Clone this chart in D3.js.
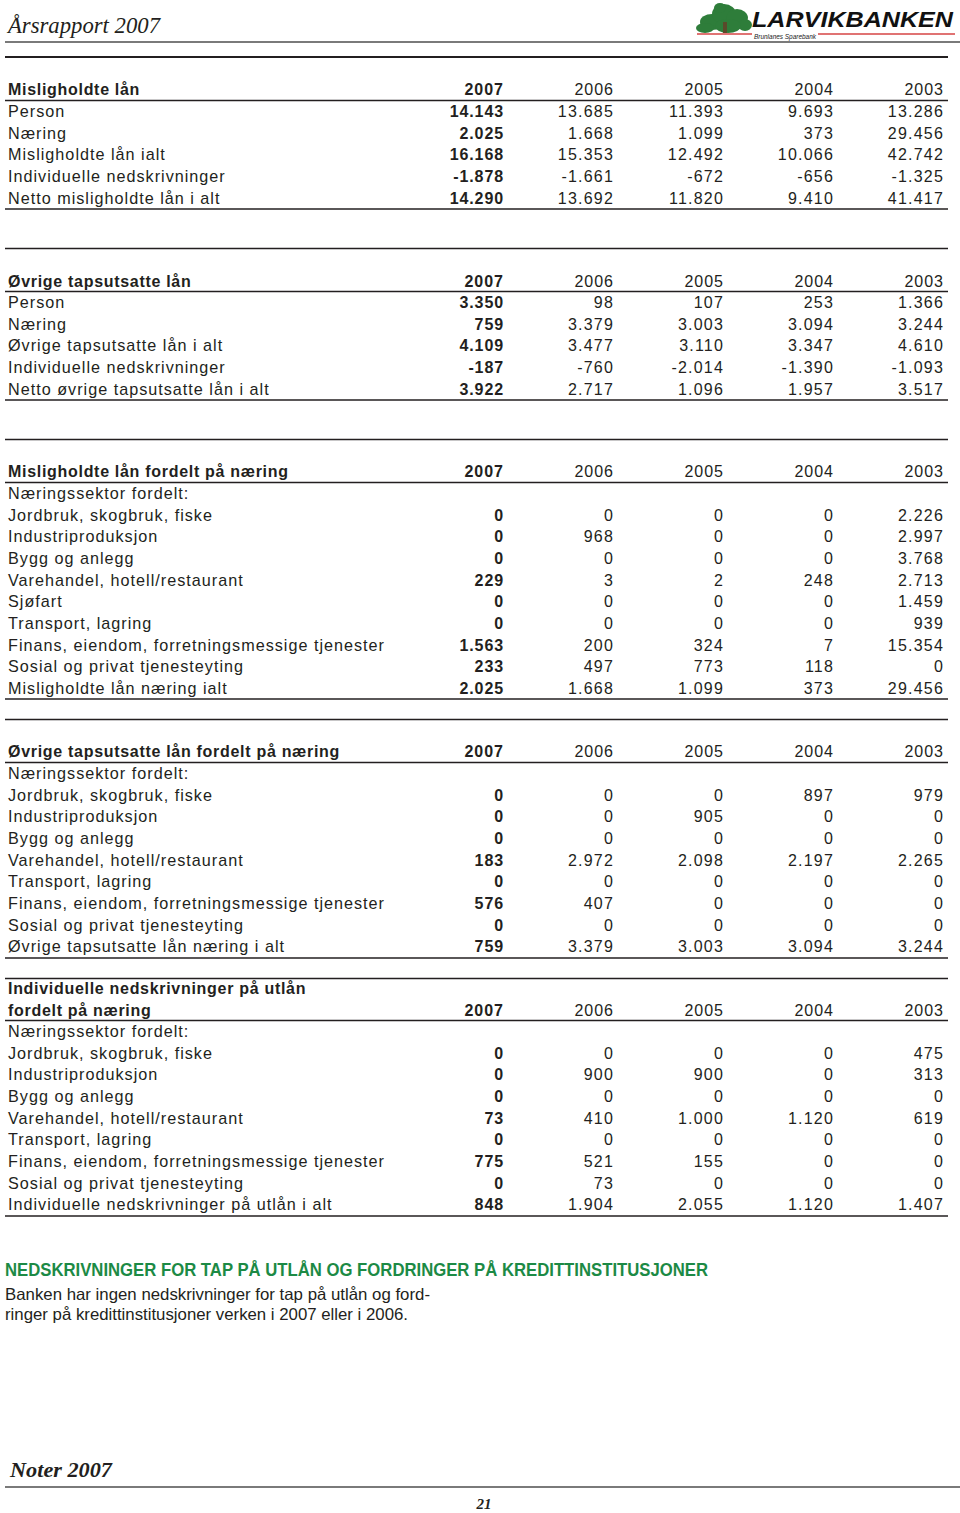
<!DOCTYPE html>
<html><head><meta charset="utf-8">
<script src="https://cdn.jsdelivr.net/npm/d3@7"></script>
<style>html,body{margin:0;padding:0;background:#fff}svg{display:block}</style>
</head><body>
<script>
// ---------- DATA ----------
const years = ["2007", "2006", "2005", "2004", "2003"];

const s1Title = ["Misligholdte lån"];
const s1Labels = ["Person", "Næring", "Misligholdte lån ialt", "Individuelle nedskrivninger", "Netto misligholdte lån i alt"];
const s1Values = [
  [14143, 13685, 11393, 9693, 13286],
  [2025, 1668, 1099, 373, 29456],
  [16168, 15353, 12492, 10066, 42742],
  [-1878, -1661, -672, -656, -1325],
  [14290, 13692, 11820, 9410, 41417]
];

const s2Title = ["Øvrige tapsutsatte lån"];
const s2Labels = ["Person", "Næring", "Øvrige tapsutsatte lån i alt", "Individuelle nedskrivninger", "Netto øvrige tapsutsatte lån i alt"];
const s2Values = [
  [3350, 98, 107, 253, 1366],
  [759, 3379, 3003, 3094, 3244],
  [4109, 3477, 3110, 3347, 4610],
  [-187, -760, -2014, -1390, -1093],
  [3922, 2717, 1096, 1957, 3517]
];

const s3Title = ["Misligholdte lån fordelt på næring"];
const s3Labels = ["Næringssektor fordelt:", "Jordbruk, skogbruk, fiske", "Industriproduksjon", "Bygg og anlegg",
  "Varehandel, hotell/restaurant", "Sjøfart", "Transport, lagring", "Finans, eiendom, forretningsmessige tjenester",
  "Sosial og privat tjenesteyting", "Misligholdte lån næring ialt"];
const s3Values = [
  null,
  [0, 0, 0, 0, 2226],
  [0, 968, 0, 0, 2997],
  [0, 0, 0, 0, 3768],
  [229, 3, 2, 248, 2713],
  [0, 0, 0, 0, 1459],
  [0, 0, 0, 0, 939],
  [1563, 200, 324, 7, 15354],
  [233, 497, 773, 118, 0],
  [2025, 1668, 1099, 373, 29456]
];

const s4Title = ["Øvrige tapsutsatte lån fordelt på næring"];
const s4Labels = ["Næringssektor fordelt:", "Jordbruk, skogbruk, fiske", "Industriproduksjon", "Bygg og anlegg",
  "Varehandel, hotell/restaurant", "Transport, lagring", "Finans, eiendom, forretningsmessige tjenester",
  "Sosial og privat tjenesteyting", "Øvrige tapsutsatte lån næring i alt"];
const s4Values = [
  null,
  [0, 0, 0, 897, 979],
  [0, 0, 905, 0, 0],
  [0, 0, 0, 0, 0],
  [183, 2972, 2098, 2197, 2265],
  [0, 0, 0, 0, 0],
  [576, 407, 0, 0, 0],
  [0, 0, 0, 0, 0],
  [759, 3379, 3003, 3094, 3244]
];

const s5Title = ["Individuelle nedskrivninger på utlån", "fordelt på næring"];
const s5Labels = ["Næringssektor fordelt:", "Jordbruk, skogbruk, fiske", "Industriproduksjon", "Bygg og anlegg",
  "Varehandel, hotell/restaurant", "Transport, lagring", "Finans, eiendom, forretningsmessige tjenester",
  "Sosial og privat tjenesteyting", "Individuelle nedskrivninger på utlån i alt"];
const s5Values = [
  null,
  [0, 0, 0, 0, 475],
  [0, 900, 900, 0, 313],
  [0, 0, 0, 0, 0],
  [73, 410, 1000, 1120, 619],
  [0, 0, 0, 0, 0],
  [775, 521, 155, 0, 0],
  [0, 73, 0, 0, 0],
  [848, 1904, 2055, 1120, 1407]
];

const pageTitle = "Årsrapport 2007";
const footerTitle = "Noter 2007";
const pageNumber = "21";
const noteHeading = "NEDSKRIVNINGER FOR TAP PÅ UTLÅN OG FORDRINGER PÅ KREDITTINSTITUSJONER";
const noteLines = ["Banken har ingen nedskrivninger for tap på utlån og ford-",
                   "ringer på kredittinstitusjoner verken i 2007 eller i 2006."];

// ---------- RENDER ----------
const W = 960, H = 1513;
const svg = d3.select("body").append("svg").attr("width", W).attr("height", H);
const SANS = "'Liberation Sans', Arial, Helvetica, sans-serif";
const SERIF = "'Liberation Serif', 'Times New Roman', serif";
const ink = "#231f20";

const locale = d3.formatLocale({decimal: ",", thousands: ".", grouping: [3], currency: ["", " kr"], minus: "-"});
const fmt = locale.format(",d");

const x = d3.scalePoint().domain(years).range([503, 943]);
const rowStep = 21.65;

function line(y, x1, x2, w, c) {
  svg.append("line").attr("x1", x1).attr("x2", x2).attr("y1", y).attr("y2", y)
    .attr("stroke", c || ink).attr("stroke-width", w || 1.6);
}

// header
svg.append("text").attr("x", 8).attr("y", 33).attr("font-family", SERIF).attr("font-style", "italic")
  .attr("font-size", 24).attr("fill", ink).attr("textLength", 152).attr("lengthAdjust", "spacingAndGlyphs")
  .text(pageTitle);
line(42, 5, 960, 2.2, "#7a7a7a");

// logo
const logo = svg.append("g");
const blobs = [[712,22,12,8],[724,14,12,10],[737,18,11,9],[745,25,7,6],[705,28,9,5],[728,26,13,7],[720,8,6,5]];
logo.selectAll("ellipse").data(blobs).join("ellipse")
  .attr("cx", d => d[0]).attr("cy", d => d[1]).attr("rx", d => d[2]).attr("ry", d => d[3]).attr("fill", "#2e7d3a");
logo.append("rect").attr("x", 723).attr("y", 22).attr("width", 4).attr("height", 11).attr("fill", "#5a4a2a");
logo.append("line").attr("x1", 697).attr("x2", 752).attr("y1", 34).attr("y2", 34).attr("stroke", "#d64545").attr("stroke-width", 1.5);
logo.append("line").attr("x1", 818).attr("x2", 955).attr("y1", 34).attr("y2", 34).attr("stroke", "#d64545").attr("stroke-width", 1.5);
logo.append("text").attr("x", 752).attr("y", 27).attr("font-family", SANS).attr("font-weight", 900)
  .attr("font-style", "italic").attr("font-size", 22).attr("fill", "#111")
  .attr("textLength", 201).attr("lengthAdjust", "spacingAndGlyphs").text("LARVIKBANKEN");
logo.append("text").attr("x", 754).attr("y", 38.5).attr("font-family", SANS).attr("font-style", "italic")
  .attr("font-size", 7).attr("fill", "#222").attr("textLength", 62).attr("lengthAdjust", "spacingAndGlyphs")
  .text("Brunlanes Sparebank");

// sections
const sections = [
  {title: s1Title, labels: s1Labels, values: s1Values, top: 57, topW: 2.2, head: 95, under: 100.5, first: 111, bottom: 209},
  {title: s2Title, labels: s2Labels, values: s2Values, top: 248.5, head: 287, under: 291.5, first: 302, bottom: 400},
  {title: s3Title, labels: s3Labels, values: s3Values, top: 439.5, head: 477, under: 482.5, first: 493, bottom: 699},
  {title: s4Title, labels: s4Labels, values: s4Values, top: 719.5, head: 757, under: 762.5, first: 773, bottom: 958},
  {title: s5Title, labels: s5Labels, values: s5Values, top: 978.5, head: 1016, under: 1020.5, first: 1031, bottom: 1216}
];

sections.forEach(s => {
  const g = svg.append("g");
  line(s.top, 5, 948, s.topW || 1.6);
  s.title.forEach((t, i) => {
    g.append("text").attr("x", 8).attr("y", s.head - (s.title.length - 1 - i) * 21.7)
      .attr("font-family", SANS).attr("font-weight", "bold").attr("font-size", 16)
      .attr("letter-spacing", 0.7).attr("fill", ink).text(t);
  });
  g.selectAll("text.yr").data(years).join("text").attr("class", "yr")
    .attr("x", d => x(d) + 1).attr("y", s.head).attr("text-anchor", "end")
    .attr("font-family", SANS).attr("font-size", 16).attr("letter-spacing", 1.0)
    .attr("font-weight", (d, i) => i === 0 ? "bold" : "normal").attr("fill", ink).text(d => d);
  line(s.under, 5, 948, 1.6);

  const y = d3.scaleLinear().domain([0, 1]).range([s.first, s.first + rowStep]);
  s.labels.forEach((lab, r) => {
    const cy = y(r) + 6;
    g.append("text").attr("x", 8).attr("y", cy).attr("font-family", SANS).attr("font-size", 16.2)
      .attr("letter-spacing", 1.0).attr("fill", ink).text(lab);
    const vals = s.values[r];
    if (!vals) return;
    g.selectAll(null).data(vals).join("text")
      .attr("x", (d, i) => x(years[i]) + 1).attr("y", cy).attr("text-anchor", "end")
      .attr("font-family", SANS).attr("font-size", 16).attr("letter-spacing", (d, i) => i === 0 ? 0.9 : 1.2)
      .attr("font-weight", (d, i) => i === 0 ? "bold" : "normal").attr("fill", ink)
      .text(d => fmt(d));
  });
  line(s.bottom, 5, 948, 1.6);
});

// note
svg.append("text").attr("x", 5).attr("y", 1276).attr("font-family", SANS).attr("font-weight", "bold")
  .attr("font-size", 18).attr("fill", "#1c8a45").attr("textLength", 703).attr("lengthAdjust", "spacingAndGlyphs")
  .text(noteHeading);
const noteW = [425, 403];
noteLines.forEach((t, i) => {
  svg.append("text").attr("x", 5).attr("y", 1300 + i * 20).attr("font-family", SANS)
    .attr("font-size", 16.5).attr("fill", ink).attr("textLength", noteW[i]).attr("lengthAdjust", "spacingAndGlyphs")
    .text(t);
});

// footer
svg.append("text").attr("x", 10).attr("y", 1477).attr("font-family", SERIF).attr("font-style", "italic")
  .attr("font-weight", "bold").attr("font-size", 22).attr("fill", ink).attr("textLength", 102).attr("lengthAdjust", "spacingAndGlyphs")
  .text(footerTitle);
line(1487, 5, 960, 2.2, "#7a7a7a");
svg.append("text").attr("x", 484).attr("y", 1509).attr("text-anchor", "middle").attr("font-family", SERIF)
  .attr("font-style", "italic").attr("font-weight", "bold").attr("font-size", 15).attr("fill", ink)
  .text(pageNumber);
</script>
</body></html>
